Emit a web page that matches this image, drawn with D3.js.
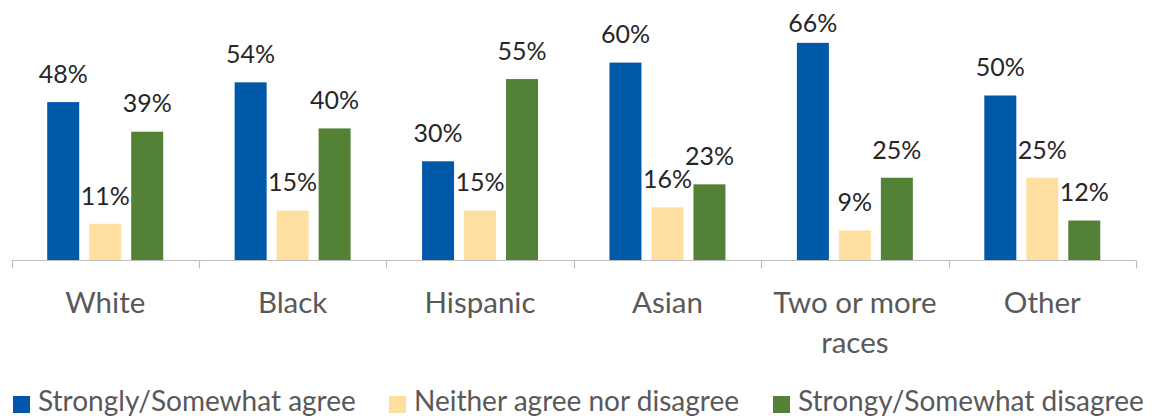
<!DOCTYPE html>
<html><head><meta charset="utf-8">
<script src="https://cdn.jsdelivr.net/npm/d3@7"></script>
<style>
html,body{margin:0;padding:0;background:#fff;}
svg{display:block;font-family:Lato,"Open Sans",sans-serif;}
</style></head>
<body>
<svg id="chart" width="1154" height="419"></svg>
<script>
const categories = [["White"],["Black"],["Hispanic"],["Asian"],["Two or more","races"],["Other"]];
const seriesNames = ["Strongly/Somewhat agree","Neither agree nor disagree","Strongy/Somewhat disagree"];
const agree = [48,54,30,60,66,50];
const neither = [11,15,15,16,9,25];
const disagree = [39,40,55,23,25,12];
const colors = ["#0058A8","#FFDFA0","#538135"];

const values = [agree, neither, disagree];
const svg = d3.select("#chart");
const x0 = d3.scaleBand().domain(d3.range(categories.length)).range([11.5,1136]).paddingInner(0).paddingOuter(0);
const x1 = d3.scaleBand().domain(d3.range(3)).range([0,x0.bandwidth()]).paddingInner(0.238).paddingOuter(0.851);
const y = d3.scaleLinear().domain([0,70]).range([260,29.7]);

const g = svg.append("g");
categories.forEach((c,i)=>{
  values.forEach((s,j)=>{
    const v = s[i];
    const bx = x0(i)+x1(j);
    g.append("rect").attr("x",bx).attr("y",y(v)).attr("width",x1.bandwidth()).attr("height",y(0)-y(v)).attr("fill",colors[j]);
    const ly = Math.max(y(v)-28, 23);
    g.append("text").attr("x",bx+x1.bandwidth()/2).attr("y",ly).attr("dy","0.35em")
      .attr("text-anchor","middle").attr("font-size",25).attr("fill","#262626").text(v+"%");
  });
});

// axis
const ax = svg.append("g").attr("transform","translate(0,260.5)");
ax.append("line").attr("x1",11.5).attr("x2",1136).attr("stroke","#BFBFBF").attr("stroke-width",1.2);
const ticks = d3.range(categories.length+1).map(i=> i<categories.length ? x0(i) : 1136);
ax.selectAll("line.t").data(ticks).join("line").attr("class","t")
  .attr("x1",d=>Math.round(d)+0.5).attr("x2",d=>Math.round(d)+0.5).attr("y1",0).attr("y2",8)
  .attr("stroke","#BFBFBF").attr("stroke-width",1.2);
categories.forEach((c,i)=>{
  c.forEach((line,k)=>{
    ax.append("text").attr("x",x0(i)+x0.bandwidth()/2).attr("y",52.5+k*40)
      .attr("text-anchor","middle").attr("font-size",29.5).attr("fill","#595959").text(line);
  });
});

// legend
const legX = [13, 389, 773];
const lg = svg.append("g").attr("transform","translate(0,411)");
seriesNames.forEach((n,j)=>{
  lg.append("rect").attr("x",legX[j]).attr("y",-15).attr("width",17).attr("height",17).attr("fill",colors[j]);
  lg.append("text").attr("x",legX[j]+25).attr("y",0).attr("font-size",28).attr("fill","#595959").text(n);
});
</script>
</body></html>
